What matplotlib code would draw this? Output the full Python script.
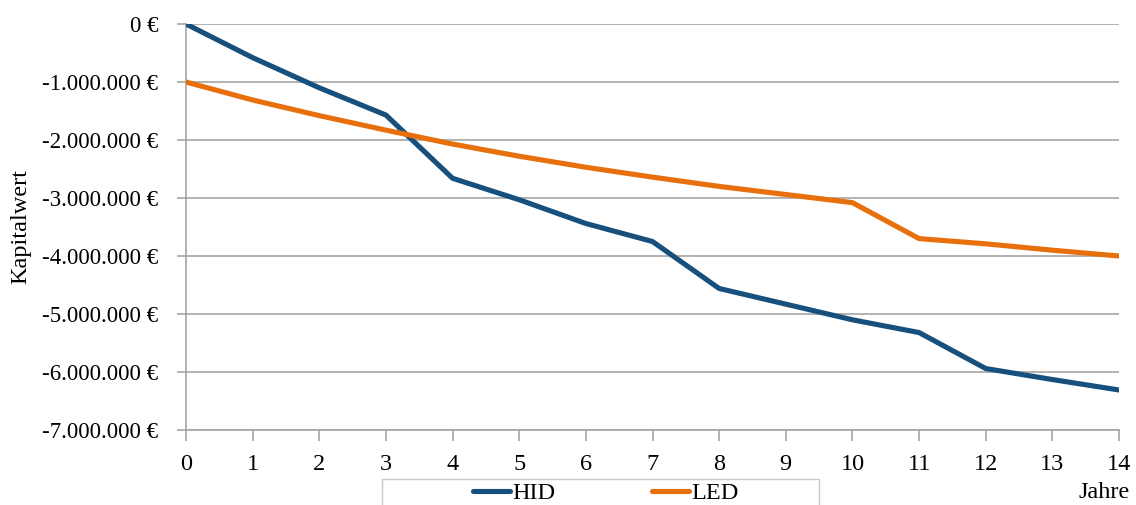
import matplotlib
matplotlib.use("Agg")
import matplotlib.pyplot as plt
from matplotlib.ticker import FuncFormatter
from matplotlib.patches import Rectangle

# Kapitalwert über die Jahre (in Euro)
jahre = list(range(15))
hid = [0, -580000, -1100000, -1570000, -2660000, -3030000, -3440000, -3750000,
       -4560000, -4830000, -5100000, -5320000, -5940000, -6130000, -6310000]
led = [-1000000, -1310000, -1580000, -1830000, -2070000, -2280000, -2470000, -2640000,
       -2800000, -2940000, -3080000, -3700000, -3790000, -3900000, -4000000]
yticks = [0, -1000000, -2000000, -3000000, -4000000, -5000000, -6000000, -7000000]

plt.rcParams['font.family'] = ['Liberation Serif', 'DejaVu Serif']
fs = 17.5
gray = '#A6A6A6'

fig = plt.figure(figsize=(11.36, 5.05), dpi=100)
ax = fig.add_axes([186 / 1136, 1 - 430 / 505, (1119 - 186) / 1136, (430 - 24) / 505])

ax.plot(jahre, hid, color='#17507D', lw=3.7, label='HID', solid_capstyle='round', zorder=3)
ax.plot(jahre, led, color='#E8700C', lw=3.7, label='LED', solid_capstyle='round', zorder=3)

ax.set_xlim(0, 14)
ax.set_ylim(-7000000, 0)
ax.set_xticks(jahre)
ax.set_yticks(yticks)
ax.yaxis.set_major_formatter(FuncFormatter(lambda v, p: f"{v:,.0f}".replace(',', '.') + " €"))

ax.grid(axis='y', color=gray, lw=1.2)
ax.set_axisbelow(True)
for s in ['top', 'right']:
    ax.spines[s].set_visible(False)
for s in ['left', 'bottom']:
    ax.spines[s].set_color(gray)
    ax.spines[s].set_linewidth(1.2)
ax.tick_params(axis='both', colors=gray, labelcolor='black', labelsize=fs, length=8, width=1.2)
ax.tick_params(axis='x', pad=9)
ax.tick_params(axis='y', pad=20, length=0, labelsize=16.5)
# kurze Striche links der y-Achse
for y in yticks:
    ax.plot([-0.12, 0], [y, y], color=gray, lw=1.2, clip_on=False, zorder=1)

ax.set_ylabel('Kapitalwert', fontsize=fs, labelpad=8)
fig.text(1130 / 1136, 1 - 493 / 505, 'Jahre', fontsize=fs, ha='right', va='center')

# Legendenrahmen unter der Achse
fig.patches.append(Rectangle((382 / 1136, -0.05), (819 - 382) / 1136, 0.05 + 1 - 479 / 505,
                             transform=fig.transFigure, facecolor='white', edgecolor='#C8C8C8', lw=1.0))
fig.legend(loc='center', bbox_to_anchor=(606 / 1136, 1 - 493 / 505), ncol=2, frameon=False,
           fontsize=fs, handlelength=1.5, handletextpad=0.1, columnspacing=4.0, borderpad=0)

fig.savefig('out.png', dpi=100)
